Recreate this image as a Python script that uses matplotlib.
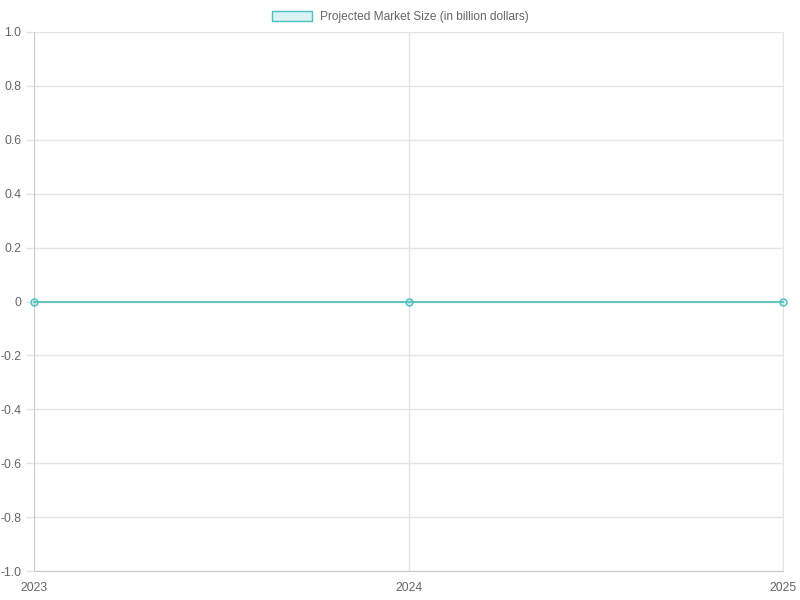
import matplotlib.pyplot as plt
from matplotlib.patches import Patch

years = ['2023', '2024', '2025']
market_size = [0, 0, 0]
series_label = 'Projected Market Size (in billion dollars)'

line_col = '#4bc0c0'
fill_col = (75/255, 192/255, 192/255, 0.2)
grid_col = '#e5e5e5'
text_col = '#666666'

plt.rcParams['font.family'] = ['Liberation Sans', 'DejaVu Sans']

fig = plt.figure(figsize=(8, 6), dpi=100)
ax = fig.add_axes([34/800, 29/600, 749/800, 539/600])

x = list(range(len(years)))
ax.fill_between(x, market_size, 0, color=fill_col, lw=0)
ax.plot(x, market_size, color=line_col, lw=1.2, marker='o', ms=5,
        markerfacecolor=fill_col, markeredgecolor=line_col, markeredgewidth=1,
        clip_on=False, zorder=3)

ax.set_xlim(0, len(years) - 1)
ax.set_ylim(-1, 1)
ax.set_xticks(x)
ax.set_xticklabels(years)
yt = [-1.0 + 0.2*i for i in range(11)]
ax.set_yticks(yt)
ax.set_yticklabels(['0' if abs(v) < 1e-9 else f'{v:.1f}' for v in yt])

ax.grid(True, color=grid_col, lw=1)
ax.set_axisbelow(True)
ax.spines['top'].set_visible(False)
ax.spines['right'].set_color(grid_col)
for s in ['left', 'bottom']:
    ax.spines[s].set_color('#cccccc')
ax.tick_params(axis='both', colors=grid_col, labelcolor=text_col, labelsize=8.8, width=1)
ax.tick_params(axis='y', length=6, pad=3)
ax.tick_params(axis='x', length=0, pad=8)

handle = Patch(facecolor=fill_col, edgecolor=line_col, lw=1)
fig.legend([handle], [series_label], loc='upper center', bbox_to_anchor=(0.5, 1.0),
           frameon=False, fontsize=8.6, labelcolor=text_col, handlelength=3.4,
           handleheight=1.0, handletextpad=0.6)

fig.savefig('out.png', dpi=100)
